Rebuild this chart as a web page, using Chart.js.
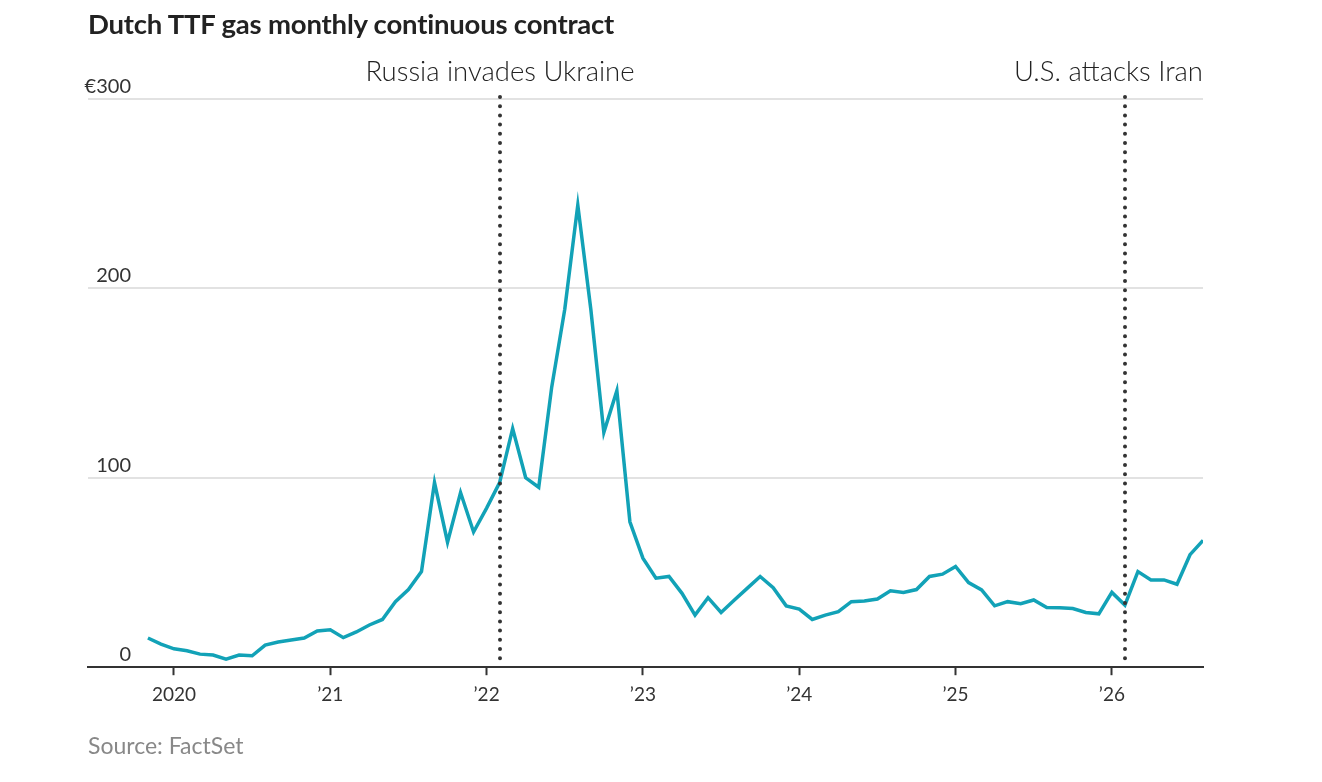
<!DOCTYPE html>
<html>
<head>
<meta charset="utf-8">
<title>Dutch TTF gas monthly continuous contract</title>
<script src="https://cdn.jsdelivr.net/npm/chart.js@4.4.1/dist/chart.umd.min.js"></script>
<style>
  html, body { margin: 0; padding: 0; background: #fff; }
  #wrap { position: relative; width: 1322px; height: 782px; overflow: hidden; }
  #title {
    position: absolute; left: 88px; top: 7px; margin: 0;
    font: 700 27.5px Lato, sans-serif; color: #222; letter-spacing: -0.2px;
  }
  #source {
    position: absolute; left: 88px; top: 731px;
    font: 400 23px Lato, sans-serif; color: #888;
  }
  canvas { position: absolute; left: 0; top: 0; }
</style>
</head>
<body>
<div id="wrap">
  <canvas id="ttfChart" width="1322" height="782"></canvas>
  <h1 id="title">Dutch TTF gas monthly continuous contract</h1>
  <div id="source">Source: FactSet</div>
</div>
<script>
// monthly series starts November 2019
const firstYear = 2019;
const firstMonth = 11;

// euros per megawatt-hour
const prices = [
  15.4, 12.2,                                                              // 2019 Nov-Dec
  9.7, 8.7, 6.9, 6.4, 4.3, 6.4, 6.0, 11.7, 13.3, 14.4, 15.4, 19.1,         // 2020
  19.8, 15.6, 18.6, 22.3, 25.2, 34.6, 41.0, 50.5, 97.5, 66.0, 92.2, 71.4,  // 2021
  84.0, 97.5, 126.0, 100.0, 95.0, 148.0, 189.0, 244.0, 189.0, 124.0, 146.0, 76.8, // 2022
  57.6, 47.0, 47.9, 39.0, 27.5, 36.7, 28.9, 35.3, 41.6, 47.9, 42.0, 32.4,  // 2023
  30.7, 25.2, 27.5, 29.3, 34.6, 34.9, 36.0, 40.3, 39.5, 41.0, 47.9, 49.1,  // 2024
  53.2, 44.7, 40.8, 32.4, 34.6, 33.5, 35.5, 31.5, 31.4, 31.0, 28.9, 28.2,  // 2025
  39.5, 32.8, 50.5, 46.1, 46.1, 43.8, 59.4, 67.0                           // 2026 Jan-Aug
];

const yearTicks = [2020, 2021, 2022, 2023, 2024, 2025, 2026];
const yearLabels = ['2020', '\u201921', '\u201922', '\u201923', '\u201924', '\u201925', '\u201926'];

const priceTicks = [0, 100, 200, 300];
const priceLabels = ['0', '100', '200', '\u20ac300'];

const eventNames = ['Russia invades Ukraine', 'U.S. attacks Iran'];
const eventDates = [2022 + 1 / 12, 2026 + 1 / 12];

const LINE_COLOR = '#12a2b7';
const INK = '#333333';

var points = prices.map(function (p, i) {
  return { x: firstYear + (firstMonth - 1 + i) / 12, y: p };
});

// y labels sit above the gridlines, and the event markers
const overlayPlugin = {
  id: 'overlay',
  afterDatasetsDraw: function (chart) {
    var ctx = chart.ctx;
    var x = chart.scales.x;
    var y = chart.scales.y;
    var area = chart.chartArea;

    ctx.save();
    ctx.fillStyle = INK;
    ctx.font = '400 20px Lato, sans-serif';
    ctx.textAlign = 'right';
    ctx.textBaseline = 'alphabetic';
    priceTicks.forEach(function (v, i) {
      ctx.fillText(priceLabels[i], 131, y.getPixelForValue(v) - 6);
    });

    eventDates.forEach(function (d, i) {
      var px = Math.round(x.getPixelForValue(d));
      ctx.beginPath();
      ctx.strokeStyle = INK;
      ctx.lineWidth = 4;
      ctx.lineCap = 'round';
      ctx.setLineDash([0, 9.2]);
      ctx.moveTo(px, area.top - 2);
      ctx.lineTo(px, area.bottom - 8);
      ctx.stroke();

      ctx.setLineDash([]);
      ctx.font = '300 27.5px Lato, sans-serif';
      ctx.textAlign = 'center';
      var w = ctx.measureText(eventNames[i]).width;
      var cx = Math.min(px, area.right - w / 2);
      ctx.fillStyle = '#222';
      ctx.fillText(eventNames[i], cx, 81);
    });
    ctx.restore();
  }
};

var ctx = document.getElementById('ttfChart').getContext('2d');

var ttfChart = new Chart(ctx, {
  type: 'line',
  data: {
    datasets: [{
      data: points,
      borderColor: LINE_COLOR,
      borderWidth: 3.5,
      pointRadius: 0,
      tension: 0,
      borderJoinStyle: 'miter'
    }]
  },
  options: {
    responsive: false,
    animation: false,
    devicePixelRatio: 1,
    layout: {
      padding: { left: 88, right: 119, top: 99, bottom: 68 }
    },
    plugins: {
      legend: { display: false },
      tooltip: { enabled: false }
    },
    scales: {
      x: {
        type: 'linear',
        min: 2019.45,
        max: 2026.583,
        afterBuildTicks: function (scale) {
          scale.ticks = yearTicks.map(function (v) { return { value: v }; });
        },
        ticks: {
          color: INK,
          font: { family: 'Lato, sans-serif', size: 19 },
          padding: 8,
          maxRotation: 0,
          callback: function (value) {
            var i = yearTicks.indexOf(value);
            return i >= 0 ? yearLabels[i] : '';
          }
        },
        grid: {
          drawOnChartArea: false,
          drawTicks: true,
          tickLength: 8,
          tickColor: INK,
          tickWidth: 2
        },
        border: { color: INK, width: 2 }
      },
      y: {
        min: 0,
        max: 300,
        afterBuildTicks: function (scale) {
          scale.ticks = priceTicks.map(function (v) { return { value: v }; });
        },
        ticks: { display: false },
        grid: { color: '#e2e2e2', lineWidth: 2, drawTicks: false },
        border: { display: false }
      }
    }
  },
  plugins: [overlayPlugin]
});
</script>
</body>
</html>
